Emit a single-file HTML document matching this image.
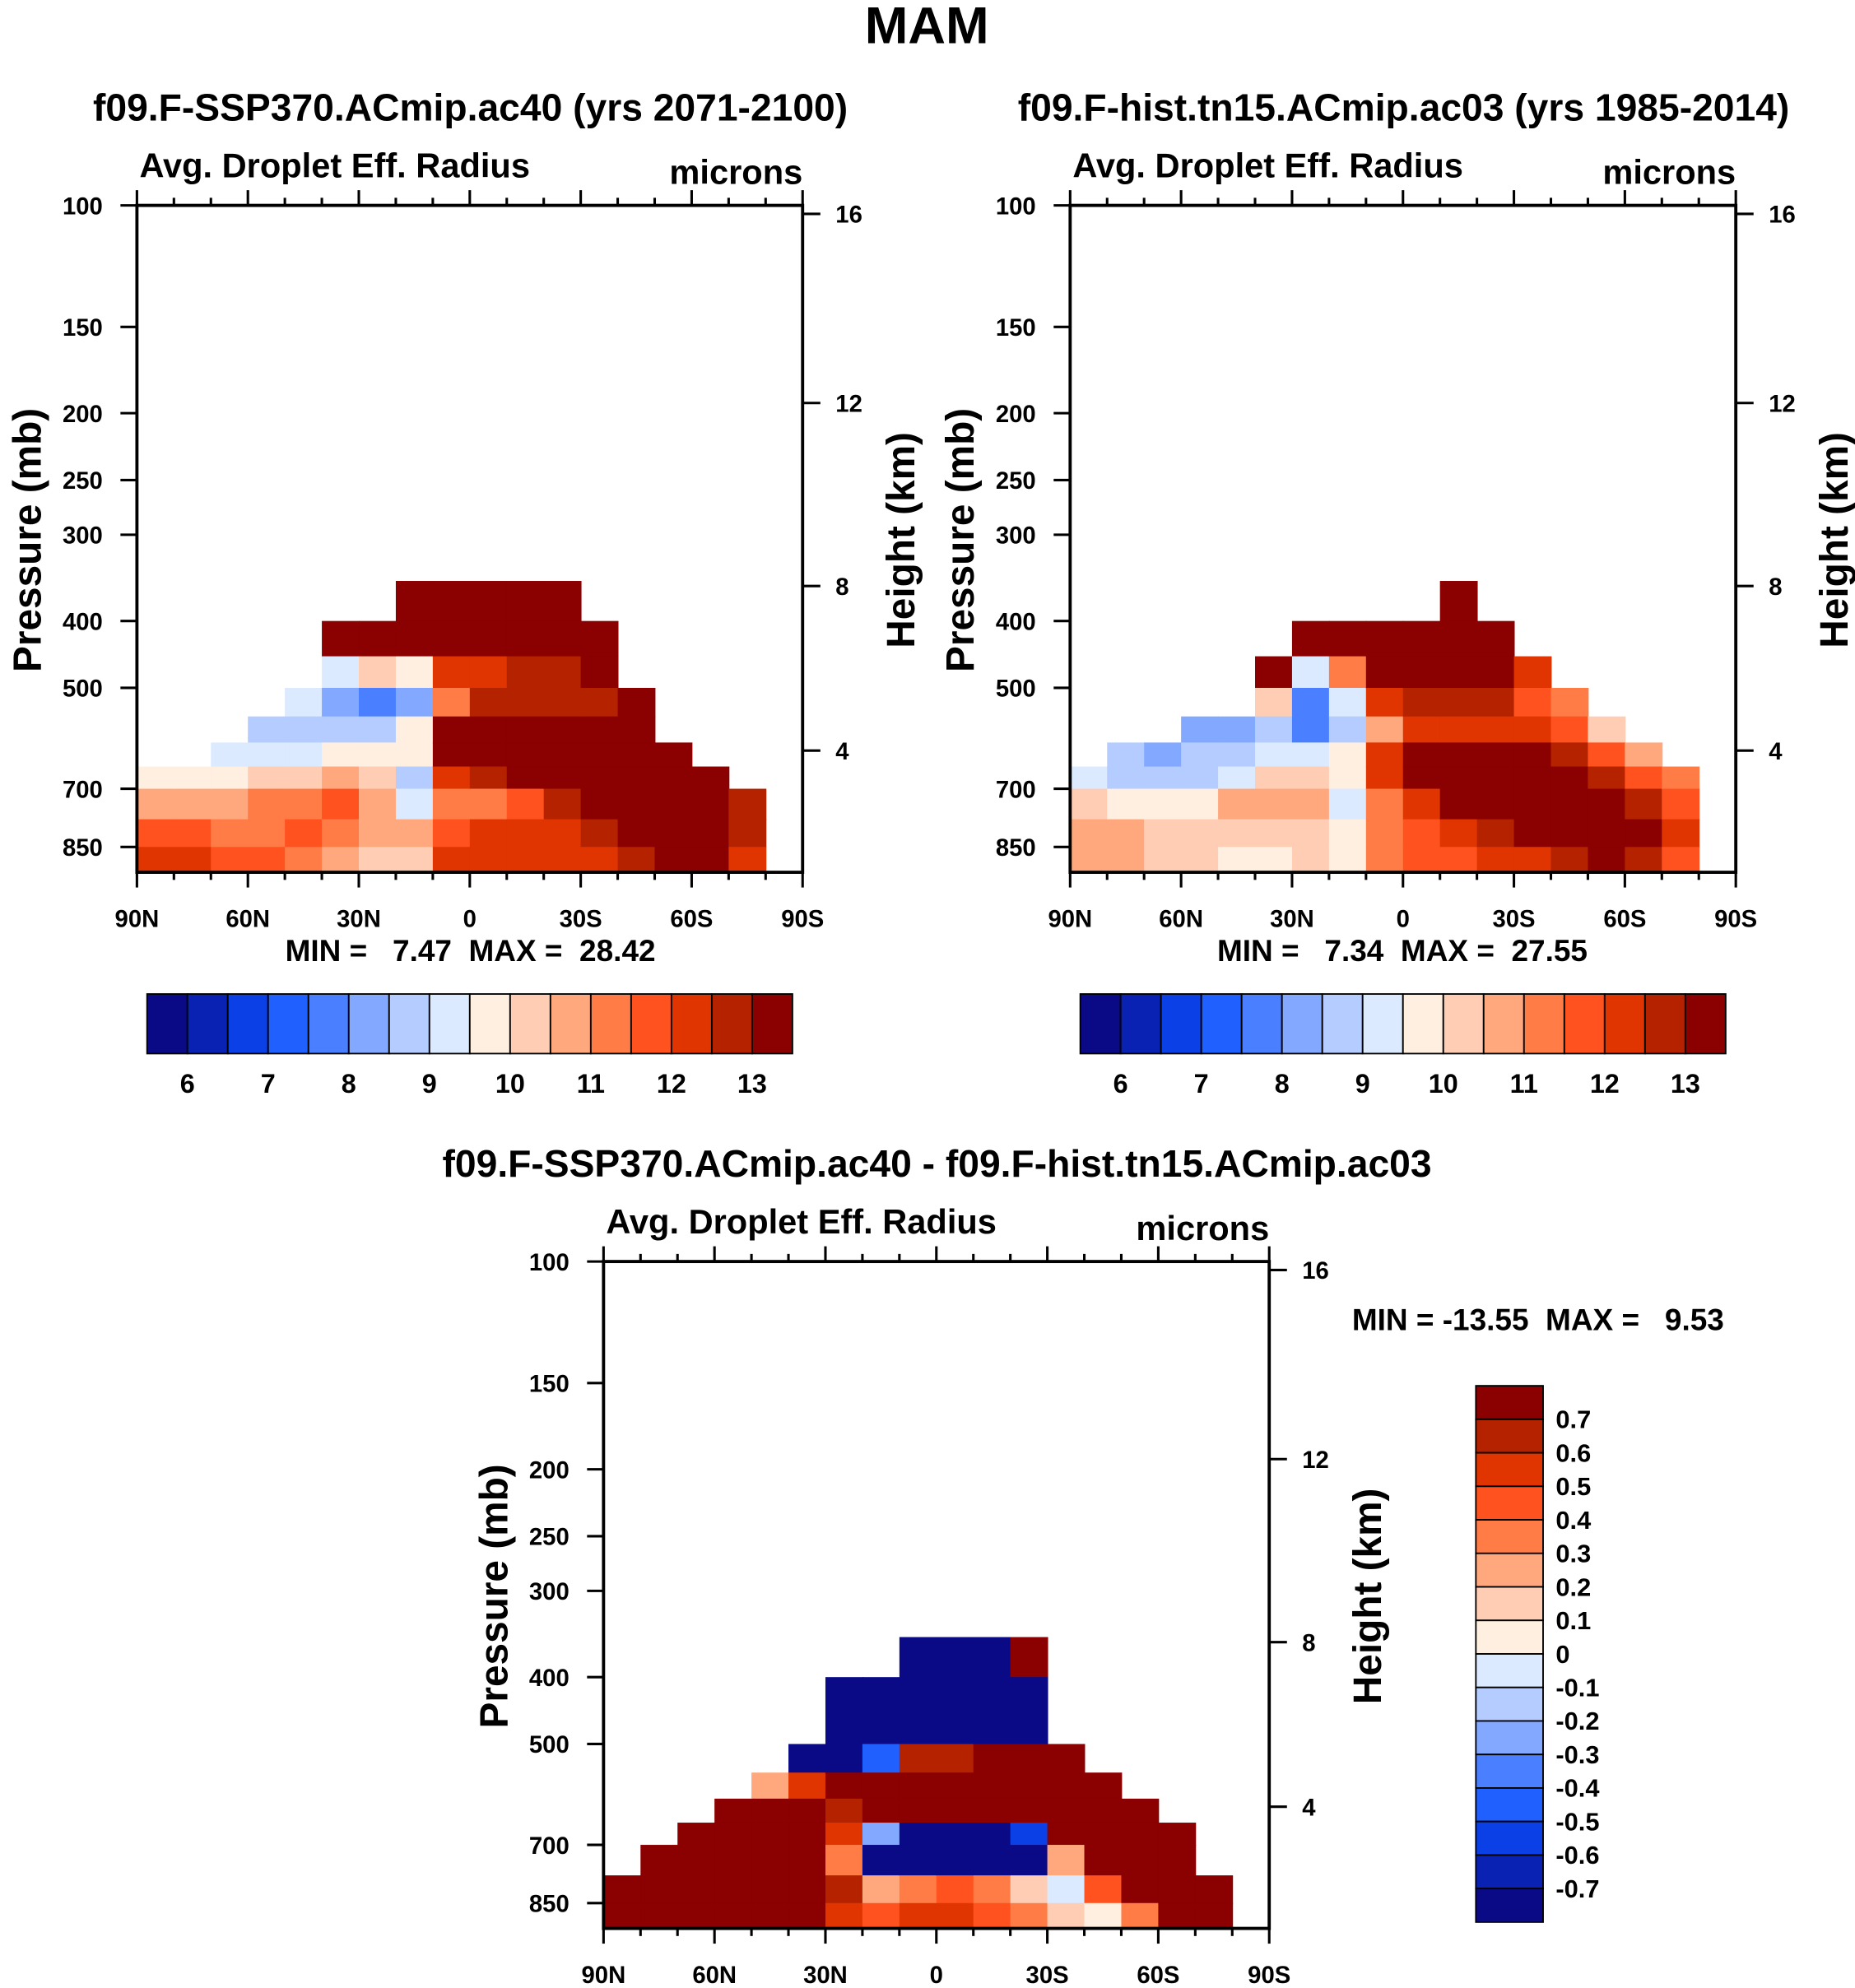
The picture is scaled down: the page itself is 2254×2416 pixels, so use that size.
<!DOCTYPE html>
<html><head><meta charset="utf-8"><style>
html,body{margin:0;padding:0;background:#fff;}
svg{display:block;font-family:"Liberation Sans",Arial,sans-serif;font-weight:bold;}
text{white-space:pre;}
</style></head><body>
<svg id="fig" width="2254" height="2416" viewBox="0 0 1463 1568" preserveAspectRatio="none" xmlns="http://www.w3.org/2000/svg" xml:space="preserve">
<text x="731" y="34" font-size="41" text-anchor="middle">MAM</text>
</svg>
<script>
const colors=["#0a0a86","#0a22b4","#0a40e6","#2060ff","#4a80ff","#82a8ff","#b4ccff","#dbeafe","#ffefe0","#ffcdb4","#ffa87e","#ff7c46","#ff521e","#e03500","#b42200","#8b0000"];
const absLevels=[6,6.5,7,7.5,8,8.5,9,9.5,10,10.5,11,11.5,12,12.5,13];
const diffLevels=[-0.7,-0.6,-0.5,-0.4,-0.3,-0.2,-0.1,0,0.1,0.2,0.3,0.4,0.5,0.6,0.7];
const absTickLabels=["6","7","8","9","10","11","12","13"];
const diffTickLabels=["-0.7","-0.6","-0.5","-0.4","-0.3","-0.2","-0.1","0","0.1","0.2","0.3","0.4","0.5","0.6","0.7"];
const pressureTicks=[100,150,200,250,300,400,500,700,850];
const heightTicks=[16,12,8,4];
const latLabels=["90N","60N","30N","0","30S","60S","90S"];
const rowEdges=[350,400,450,500,550,600,650,700,775,850,925];
const N=null;
const grid1=[
[N,N,N,N,N,N,9.5,10.5,11.5,12],
[N,N,N,N,N,N,9.8,10.5,11.5,12],
[N,N,N,N,N,9,9.5,10.5,11,11.5],
[N,N,N,N,8.5,9,10,11,11,11.5],
[N,N,N,9,8.5,9.2,10,11,11.5,11],
[N,13.5,9,8,8.5,9.5,10.5,11.5,11,10.5],
[N,13.5,10,7.5,8.5,9.5,10,10.5,10.5,10],
[13.5,13.5,9.5,8,9.5,9.5,8.5,9,10.5,10],
[13.5,13.5,12,11,13.5,13.5,12,11,11.5,12],
[13.5,13.5,12,12.5,13.5,13.5,12.5,11,12,12],
[13.5,13.5,12.5,12.5,13.5,13.5,13,11.5,12,12],
[13.5,13.5,12.5,12.5,13.5,13.5,13.5,12.5,12,12],
[N,13,13,12.5,13.5,13.5,13.5,13.5,12.5,12],
[N,N,N,13,13,13.5,13.5,13.5,13.5,12.5],
[N,N,N,N,N,13,13.5,13.5,13.5,13],
[N,N,N,N,N,N,13,13.5,13.5,13],
[N,N,N,N,N,N,N,12.5,12.5,12],
[N,N,N,N,N,N,N,N,N,N]];
const grid2=[
[N,N,N,N,N,N,9,10,10.5,10.5],
[N,N,N,N,N,8.5,8.5,9.5,10.5,10.5],
[N,N,N,N,N,8,8.5,9.5,10,10],
[N,N,N,N,8,8.5,8.5,9.5,10,10],
[N,N,N,N,8,8.5,9,10.5,10,9.5],
[N,N,13.5,10,8.5,9,10,10.5,10,9.5],
[N,13.5,9,7.5,7.5,9,10,10.5,10,10],
[N,13.5,11,9,8.5,9.5,9.5,9,9.5,9.5],
[N,13.5,13.5,12,10.5,12,12,11,11,11],
[N,13.5,13.5,12.5,12,13.5,13.5,12,11.5,11.5],
[13.5,13.5,13.5,12.5,12,13.5,13.5,13,12,11.5],
[N,13.5,13.5,12.5,12,13.5,13.5,13.5,12.5,12],
[N,N,12,11.5,12,13,13.5,13.5,13,12],
[N,N,N,11,11.5,12.5,13,13.5,13.5,12.5],
[N,N,N,N,10,11.5,12.5,13.5,13.5,13],
[N,N,N,N,N,10.5,11.5,12.5,13,12.5],
[N,N,N,N,N,N,11,11.5,12,11.5],
[N,N,N,N,N,N,N,N,N,N]];
const grid3=[
[N,N,N,N,N,N,N,N,0.8,0.8],
[N,N,N,N,N,N,N,0.8,0.8,0.8],
[N,N,N,N,N,N,0.8,0.8,0.8,0.8],
[N,N,N,N,N,0.8,0.8,0.8,0.8,0.8],
[N,N,N,N,0.2,0.8,0.8,0.8,0.8,0.8],
[N,N,N,-0.8,0.5,0.8,0.8,0.8,0.8,0.8],
[N,-0.8,-0.8,-0.8,0.8,0.6,0.5,0.3,0.6,0.5],
[N,-0.8,-0.8,-0.5,0.8,0.8,-0.3,-0.8,0.2,0.4],
[-0.8,-0.8,-0.8,0.6,0.8,0.8,-0.8,-0.8,0.3,0.5],
[-0.8,-0.8,-0.8,0.6,0.8,0.8,-0.8,-0.8,0.4,0.5],
[-0.8,-0.8,-0.8,0.8,0.8,0.8,-0.8,-0.8,0.3,0.4],
[0.8,-0.8,-0.8,0.8,0.8,0.8,-0.6,-0.8,0.1,0.3],
[N,N,N,0.8,0.8,0.8,0.8,0.2,-0.1,0.1],
[N,N,N,N,0.8,0.8,0.8,0.8,0.4,0.0],
[N,N,N,N,N,0.8,0.8,0.8,0.8,0.3],
[N,N,N,N,N,N,0.8,0.8,0.8,0.8],
[N,N,N,N,N,N,N,N,0.8,0.8],
[N,N,N,N,N,N,N,N,N,N]];

const svg=document.getElementById('fig');
const NS="http://www.w3.org/2000/svg";
function mk(tag,attrs,parent){const e=document.createElementNS(NS,tag);for(const k in attrs)e.setAttribute(k,attrs[k]);(parent||svg).appendChild(e);return e;}
function txt(x,y,s,size,anchor,parent){const t=mk('text',{x:x,y:y,'font-size':size,'text-anchor':anchor||'start'},parent);t.textContent=s;return t;}
function colorFor(v,levels){let i=0;while(i<levels.length&&v>=levels[i]-1e-9)i++;return colors[i];}
function stdPressure(h){return h<=11?1013.25*Math.pow(1-0.0065*h*1000/288.15,5.256):226.32*Math.exp(-(h-11)/6.3416);}

function panel(L,T,grid,levels,name){
  const W=525,H=526,P0=100,PB=925;
  const g=mk('g',{});
  
  
  const xs=lat=>L+(90-lat)/180*W;
  const yp=p=>T+Math.log(p/P0)/Math.log(PB/P0)*H;
  const cw=W/18;
  grid.forEach((col,ci)=>{col.forEach((v,ri)=>{
    if(v===null)return;
    const y0=yp(rowEdges[ri]),y1=yp(rowEdges[ri+1]);
    const r=mk('rect',{x:xs(90-ci*10),y:y0,width:cw+0.6,height:Math.min(y1-y0+0.6,T+H-y0),fill:colorFor(v,levels)},g);
    
    
  });});
  const frame=mk('rect',{x:L,y:T,width:W,height:H,fill:'none',stroke:'#000','stroke-width':2.5},g);
  
  
  pressureTicks.forEach(p=>{const y=yp(p);mk('line',{x1:L-13,x2:L,y1:y,y2:y,stroke:'#000','stroke-width':2},g);
    const t=txt(L-27,y+7,String(p),19,'end',g);});
  heightTicks.forEach(h=>{const y=yp(stdPressure(h));mk('line',{x1:L+W,x2:L+W+14,y1:y,y2:y,stroke:'#000','stroke-width':2},g);
    const t=txt(L+W+26,y+7,String(h),19,'start',g);});
  for(let lat=90;lat>=-90;lat-=10){const x=xs(lat);const major=lat%30===0;const len=major?12:6;
    mk('line',{x1:x,x2:x,y1:T+H,y2:T+H+len,stroke:'#000','stroke-width':2},g);
    mk('line',{x1:x,x2:x,y1:T,y2:T-len,stroke:'#000','stroke-width':2},g);}
  latLabels.forEach((s,i)=>{const t=txt(xs(90-30*i),T+H+43,s,19,'middle',g);});
  const st=txt(L+2,T-22,'Avg. Droplet Eff. Radius',27,'start',g);
  const un=txt(L+W,T-17,'microns',27,'end',g);
  const ya=txt(0,0,'Pressure (mb)',31,'middle',g);ya.setAttribute('transform',`translate(${L-76},${T+264}) rotate(-90)`);
  
  const yb=txt(0,0,'Height (km)',31,'middle',g);yb.setAttribute('transform',`translate(${L+W+88},${T+264}) rotate(-90)`);
  
  return g;
}
function hbar(L,T){
  const W=509,H=47,bw=W/16;
  colors.forEach((c,i)=>{const r=mk('rect',{x:L+i*bw,y:T,width:bw,height:H,fill:c,stroke:'#000','stroke-width':1.2});
    });
  absTickLabels.forEach((s,i)=>{const t=txt(L+(1+2*i)*bw,T+H+31,s,21,'middle');});
}
function title(x,y,s,size,name){const t=txt(x,y,s,size,'middle');return t;}

title(371,95,'f09.F-SSP370.ACmip.ac40 (yrs 2071-2100)',30,'left-panel-title');
title(1107,95,'f09.F-hist.tn15.ACmip.ac03 (yrs 1985-2014)',30,'right-panel-title');
title(739,928,'f09.F-SSP370.ACmip.ac40 - f09.F-hist.tn15.ACmip.ac03',30,'diff-panel-title');
panel(108,162,grid1,absLevels,'future-panel');
panel(844,162,grid2,absLevels,'hist-panel');
panel(476,995,grid3,diffLevels,'diff-panel');
title(371,758,'MIN =   7.47  MAX =  28.42',24,'left-minmax');
title(1106,758,'MIN =   7.34  MAX =  27.55',24,'right-minmax');
title(1213,1049,'MIN = -13.55  MAX =   9.53',24,'diff-minmax');
hbar(116,784);hbar(852,784);
(function(){const L=1164,T=1093,W=53,H=423,bh=H/16;
  colors.slice().reverse().forEach((c,i)=>{const r=mk('rect',{x:L,y:T+i*bh,width:W,height:bh,fill:c,stroke:'#000','stroke-width':1.2});
    });
  diffTickLabels.slice().reverse().forEach((s,i)=>{const t=txt(L+W+10,T+(i+1)*bh+7,s,20,'start');});
})();
</script>
</body></html>
